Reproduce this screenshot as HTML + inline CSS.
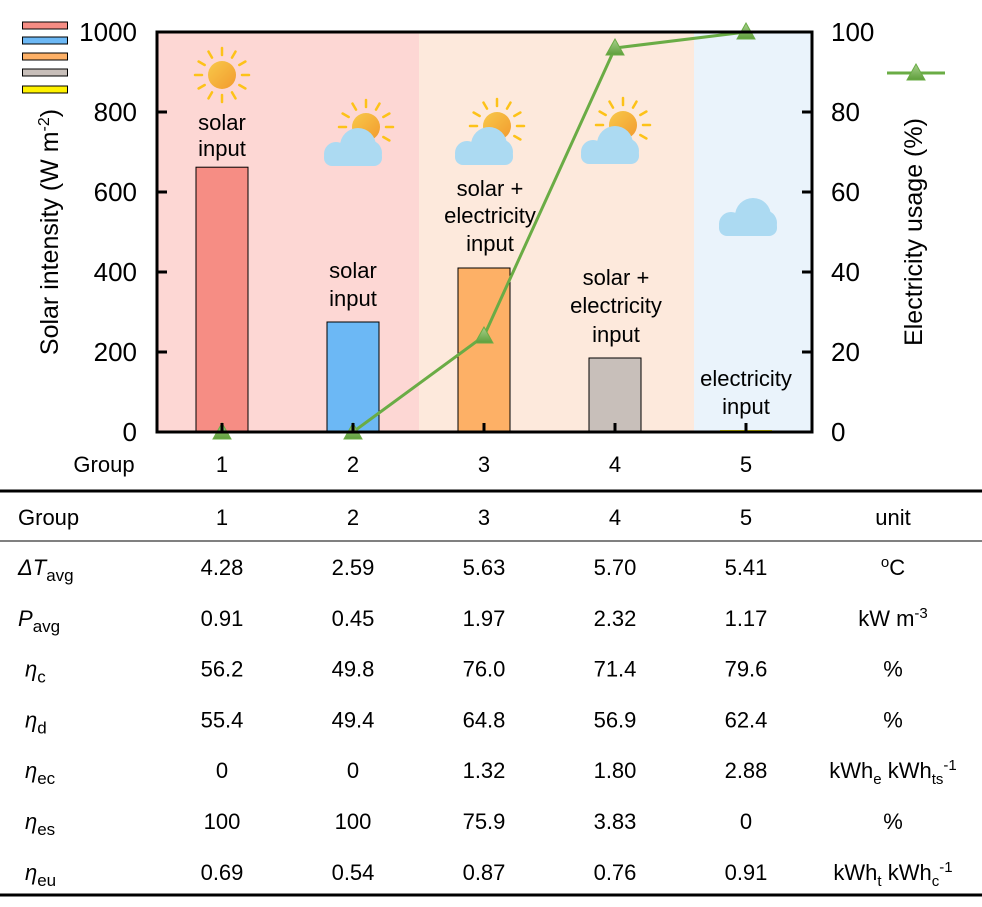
<!DOCTYPE html>
<html><head><meta charset="utf-8"><style>
body{margin:0;background:#fff}
svg{display:block;font-family:"Liberation Sans",Arial,sans-serif}
</style></head><body>
<svg id="chart" width="982" height="907" viewBox="0 0 982 907" xmlns="http://www.w3.org/2000/svg">
<defs>
<linearGradient id="sunG" x1="0" y1="0" x2="1" y2="1"><stop offset="0" stop-color="#f8c94a"/><stop offset="1" stop-color="#f29a2e"/></linearGradient>
<linearGradient id="triG" x1="0" y1="0" x2="0" y2="1"><stop offset="0" stop-color="#a8d08d"/><stop offset="1" stop-color="#5e9e3a"/></linearGradient>
</defs>
<g id="bg"></g>
<g id="bars"></g>
<g id="icons"></g>
<g id="labels" font-size="22" text-anchor="middle" fill="#000"></g>
<g id="line"></g>
<g id="axes"></g>
<g id="legend"></g>
<g id="table" font-size="22" fill="#000"></g>
</svg>
<script>
const categories=["1","2","3","4","5"];
const solarValues=[662,275,410,185,5];
const usageValues=[0,0,24,96,100];
const leftTicks=[0,200,400,600,800,1000];
const rightTicks=[0,20,40,60,80,100];
const barColors=["#f68d84","#6cb8f5","#fdb066","#c8bfba","#fff200"];
const rowLabels=[["ΔT","avg"],["P","avg"],["η","c"],["η","d"],["η","ec"],["η","es"],["η","eu"]];
const tableValues=[
["4.28","2.59","5.63","5.70","5.41"],
["0.91","0.45","1.97","2.32","1.17"],
["56.2","49.8","76.0","71.4","79.6"],
["55.4","49.4","64.8","56.9","62.4"],
["0","0","1.32","1.80","2.88"],
["100","100","75.9","3.83","0"],
["0.69","0.54","0.87","0.76","0.91"]];

const NS="http://www.w3.org/2000/svg";
function mk(parent,tag,attrs,txt){const e=document.createElementNS(NS,tag);for(const k in attrs)e.setAttribute(k,attrs[k]);if(txt!==undefined)e.textContent=txt;parent.appendChild(e);return e;}
const L=157,R=812,T=32,B=432;
const x0=222,dx=131;
const xPos=i=>x0+i*dx;
const yL=v=>B-(v/1000)*(B-T);
const yR=v=>B-(v/100)*(B-T);

const bg=document.getElementById('bg');
let e;
e=mk(bg,'rect',{x:L,y:T,width:419-L,height:B-T,fill:'#fdd7d4'});

e=mk(bg,'rect',{x:419,y:T,width:694-419,height:B-T,fill:'#fde9dc'});

e=mk(bg,'rect',{x:694,y:T,width:R-694,height:B-T,fill:'#eaf3fb'});


const bars=document.getElementById('bars');
solarValues.forEach((v,i)=>{
  const y=yL(v);
  const r=mk(bars,'rect',{x:xPos(i)-26,y:y,width:52,height:B-y,fill:barColors[i],stroke:i==4?'none':'#000','stroke-width':1});
  
  
});

const icons=document.getElementById('icons');
function sun(g,cx,cy){
  for(let k=0;k<12;k++){const a=k*Math.PI/6;const c=Math.cos(a),s=Math.sin(a);
    mk(g,'line',{x1:cx+c*20,y1:cy+s*20,x2:cx+c*27,y2:cy+s*27,stroke:'#fdc218','stroke-width':2.5,'stroke-linecap':'round'});}
  mk(g,'circle',{cx:cx,cy:cy,r:14,fill:'url(#sunG)'});
}
function cloud(g,ox,oy){
  const f='#acdaf2';
  mk(g,'circle',{cx:ox-8,cy:oy+19,r:18,fill:f});
  mk(g,'circle',{cx:ox-30,cy:oy+27,r:12,fill:f});
  mk(g,'circle',{cx:ox+3,cy:oy+26,r:13,fill:f});
  mk(g,'rect',{x:ox-42,y:oy+22,width:58,height:17,rx:8,fill:f});
}
[[222,75,false],[366,127,true],[497,126,true],[623,125,true]].forEach((p,i)=>{
  const g=mk(icons,'g',{});
  
  
  sun(g,p[0],p[1]); if(p[2])cloud(g,p[0],p[1]);
});
{const g=mk(icons,'g',{});cloud(g,761,197);}

const lab=document.getElementById('labels');
[[222,[122,148],["solar","input"]],[353,[270,298],["solar","input"]],[490,[188,215,243],["solar +","electricity","input"]],[616,[277,305,334],["solar +","electricity","input"]],[746,[378,406],["electricity","input"]]].forEach((a,i)=>{
  a[2].forEach((t,j)=>{const tx=mk(lab,'text',{x:a[0],y:a[1][j]+8},t);
    });
});

const ln=document.getElementById('line');
const pts=usageValues.map((v,i)=>xPos(i)+','+yR(v)).join(' ');
e=mk(ln,'polyline',{points:pts,fill:'none',stroke:'#6aac45','stroke-width':3});

usageValues.forEach((v,i)=>{
  const x=xPos(i),y=yR(v);
  const t=mk(ln,'polygon',{points:`${x},${y-9} ${x-9},${y+7} ${x+9},${y+7}`,fill:'url(#triG)',stroke:'#6aac45','stroke-width':1});
  
});

const ax=document.getElementById('axes');
e=mk(ax,'rect',{x:L,y:T,width:R-L,height:B-T,fill:'none',stroke:'#000','stroke-width':3});

leftTicks.forEach(v=>{const y=yL(v);
  mk(ax,'line',{x1:L,y1:y,x2:L+10,y2:y,stroke:'#000','stroke-width':3});
  const t=mk(ax,'text',{x:137,y:y+9,'text-anchor':'end','font-size':26},String(v));
  });
rightTicks.forEach(v=>{const y=yR(v);
  mk(ax,'line',{x1:R-10,y1:y,x2:R,y2:y,stroke:'#000','stroke-width':3});
  const t=mk(ax,'text',{x:831,y:y+9,'text-anchor':'start','font-size':26},String(v));
  });
categories.forEach((c,i)=>{const x=xPos(i);
  mk(ax,'line',{x1:x,y1:B-9,x2:x,y2:B,stroke:'#000','stroke-width':3});
  const t=mk(ax,'text',{x:x,y:472,'text-anchor':'middle','font-size':22},c);
  });
e=mk(ax,'text',{x:104,y:472,'text-anchor':'middle','font-size':22},'Group');

e=mk(ax,'text',{transform:'translate(58,232) rotate(-90)','text-anchor':'middle','font-size':25});

e.innerHTML='Solar intensity (W m<tspan dy="-9" font-size="16">-2</tspan><tspan dy="9">)</tspan>';
e=mk(ax,'text',{transform:'translate(922,232) rotate(-90)','text-anchor':'middle','font-size':25},'Electricity usage (%)');


const lg=document.getElementById('legend');
[22,37,53,69,86].forEach((y,i)=>{const r=mk(lg,'rect',{x:22.5,y:y,width:45,height:7,fill:barColors[i],stroke:'#000','stroke-width':1});
  });
e=mk(lg,'line',{x1:887,y1:73,x2:945,y2:73,stroke:'#6aac45','stroke-width':3});

mk(lg,'polygon',{points:'916,64 907,80 925,80',fill:'url(#triG)',stroke:'#6aac45'});

const tb=document.getElementById('table');
mk(tb,'line',{x1:0,y1:491,x2:982,y2:491,stroke:'#000','stroke-width':3});
mk(tb,'line',{x1:0,y1:541,x2:982,y2:541,stroke:'#000','stroke-width':1});
mk(tb,'line',{x1:0,y1:895,x2:982,y2:895,stroke:'#000','stroke-width':3});
e=mk(tb,'text',{x:18,y:525},'Group');
categories.forEach((c,i)=>{const t=mk(tb,'text',{x:xPos(i),y:525,'text-anchor':'middle'},c);
  });
e=mk(tb,'text',{x:893,y:525,'text-anchor':'middle'},'unit');
const units=['<tspan dy="-8" font-size="15">o</tspan><tspan dy="8">C</tspan>',
 'kW m<tspan dy="-8" font-size="15">-3</tspan>','%','%',
 'kWh<tspan dy="6" font-size="15">e</tspan><tspan dy="-6"> kWh</tspan><tspan dy="6" font-size="15">ts</tspan><tspan dy="-14" font-size="15">-1</tspan>',
 '%','kWh<tspan dy="6" font-size="15">t</tspan><tspan dy="-6"> kWh</tspan><tspan dy="6" font-size="15">c</tspan><tspan dy="-14" font-size="15">-1</tspan>'];
tableValues.forEach((row,r)=>{
  const y=575+r*50.8;
  const lt=mk(tb,'text',{x:r<2?18:25,y:y});
  
  lt.innerHTML='<tspan font-style="italic">'+rowLabels[r][0]+'</tspan><tspan dy="6" font-size="17">'+rowLabels[r][1]+'</tspan>';
  row.forEach((v,i)=>{const t=mk(tb,'text',{x:xPos(i),y:y,'text-anchor':'middle'},v);
    });
  const u=mk(tb,'text',{x:893,y:y,'text-anchor':'middle'});
  
  u.innerHTML=units[r];
});
</script>
</body></html>
